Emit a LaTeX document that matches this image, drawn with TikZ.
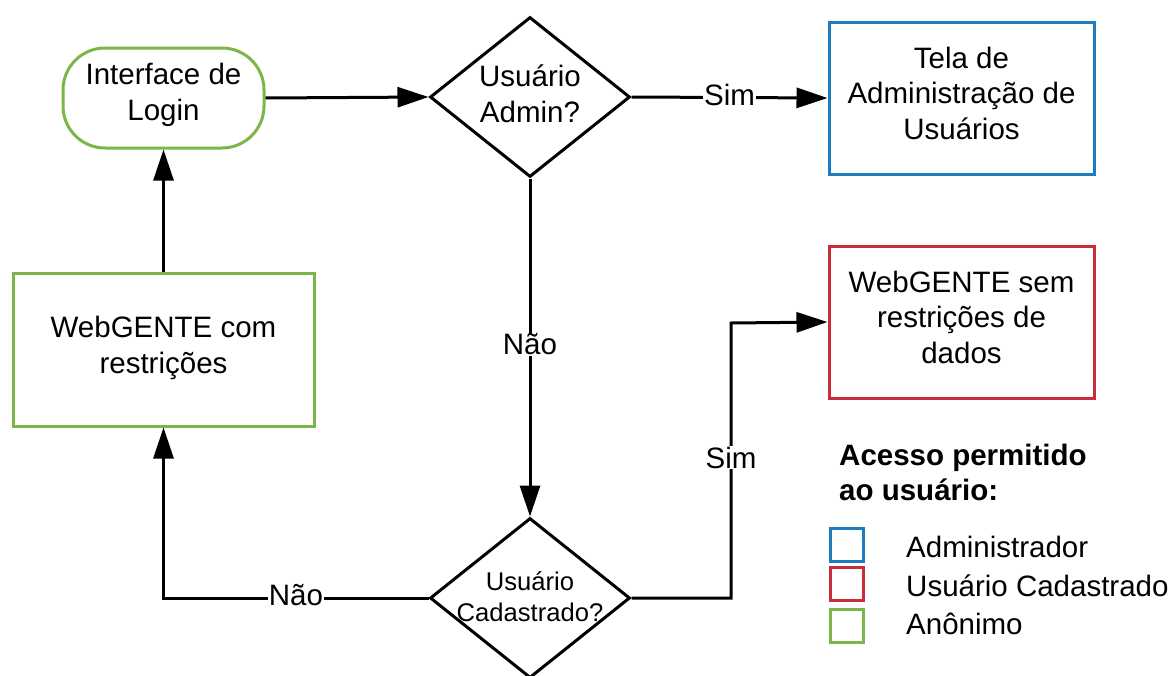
\documentclass[tikz,border=0pt]{standalone}
\usepackage{fontspec}
\setmainfont{Liberation Sans}
\usetikzlibrary{arrows.meta,shapes.geometric}
\definecolor{lgreen}{HTML}{7AB648}
\definecolor{lred}{HTML}{C92D39}
\definecolor{lblue}{HTML}{1F7BBF}
\tikzset{
  base/.style={inner sep=0pt, align=center, font=\fontsize{29.5}{35.5}\selectfont},
  boxnode/.style={draw, line width=3pt, inner sep=0pt, minimum width=#1},
  greenbox/.style={boxnode=301pt, draw=lgreen, minimum height=153pt},
  bluebox/.style={boxnode=265pt, draw=lblue, minimum height=152pt},
  redbox/.style={boxnode=265pt, draw=lred, minimum height=152pt},
  startnode/.style={draw=lgreen, line width=3pt, rounded corners=42pt, minimum width=201pt, minimum height=100pt, inner sep=0pt},
  dia/.style={shape=diamond, draw=black, line width=3pt, minimum width=200pt, minimum height=160pt, inner sep=0pt},
  txt/.style={base},
  smalltxt/.style={inner sep=0pt, align=center, font=\fontsize{25.6}{31}\selectfont},
  arr/.style={line width=3pt, -{Triangle[length=31pt,width=20pt]}},
  lbl/.style={fill=white, inner sep=1pt, yshift=3pt, font=\fontsize{29.5}{35}\selectfont},
  legsq/.style={draw=#1, line width=3pt, minimum width=33pt, minimum height=33pt, inner sep=0pt},
  legtxt/.style={anchor=base west, inner sep=0pt, font=\fontsize{29.5}{35}\selectfont}
}
\begin{document}
\begin{tikzpicture}[x=1pt,y=-1pt]
\path[use as bounding box] (0,0) rectangle (1174,675);
\clip (0,0) rectangle (1174,675);

\node[startnode] (login) at (163.5,98) {};
\node[txt] (logintxt) at (163.5,95) {Interface de\\Login};
\node[dia] (d1) at (530,97) {};
\node[txt] (d1txt) at (530,94) {Usuário\\Admin?};
\node[bluebox] (tela) at (961.5,98) {};
\node[txt] (telatxt) at (961.5,93) {Tela de\\Administração de\\Usuários};
\node[greenbox] (com) at (163.5,349.5) {};
\node[txt] (comtxt) at (163.5,348) {WebGENTE com\\restrições};
\node[redbox] (sem) at (961.5,322) {};
\node[txt] (semtxt) at (961.5,317) {WebGENTE sem\\restrições de\\dados};
\node[dia] (d2) at (530,598) {};
\node[smalltxt] (d2txt) at (530,597) {Usuário\\Cadastrado?};

\draw[arr] (login.east) -- (d1.west);
\draw[arr] (d1.east) -- node[lbl]{Sim} (tela.west);
\draw[arr] (d1.south) -- node[lbl]{Não} (d2.north);
\draw[arr] (d2.west) -| node[lbl,pos=0.25]{Não} (com.south);
\draw[arr] (com.north) -- (login.south);
\coordinate (turn) at (731,323);
\draw[arr] (d2.east) -| node[lbl,pos=0.75]{Sim} (turn) -- (sem.west);

\node[anchor=base west, inner sep=0pt, align=left, font=\fontsize{29.5}{35}\selectfont\bfseries] (legtitle) at (839,500) {Acesso permitido\\ao usuário:};
\node[legsq=lblue] (sq1) at (846.5,544.5) {};
\node[legsq=lred] (sq2) at (846.5,584) {};
\node[legsq=lgreen] (sq3) at (846.5,625.5) {};
\node[legtxt] (l1) at (906,557) {Administrador};
\node[legtxt] (l2) at (906,596) {Usuário Cadastrado};
\node[legtxt] (l3) at (906,634) {Anônimo};
\end{tikzpicture}
\end{document}
